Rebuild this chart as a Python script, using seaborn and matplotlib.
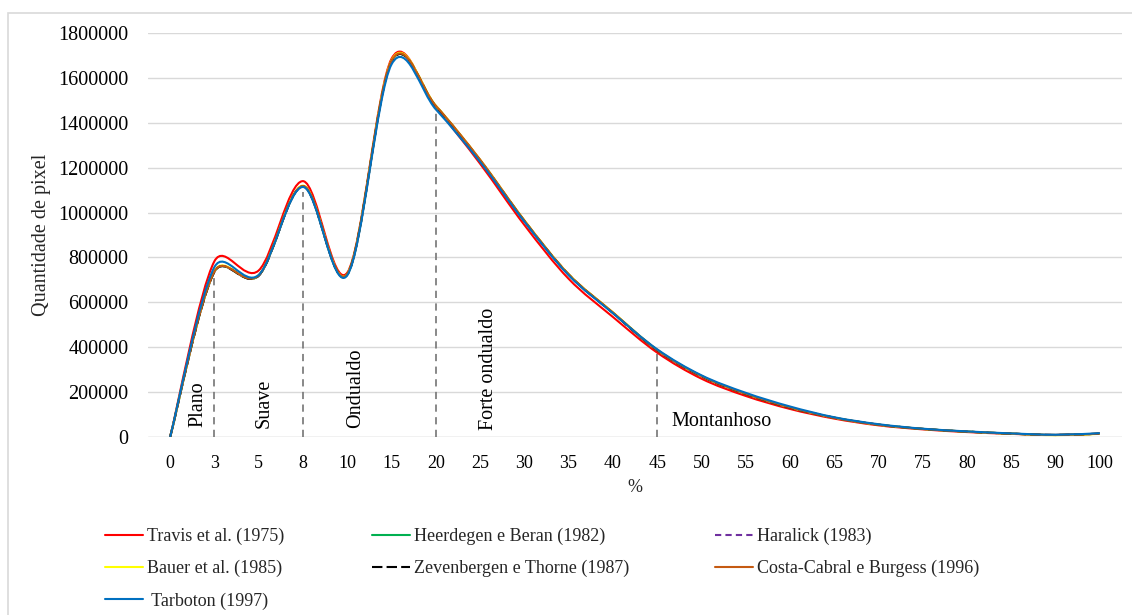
import numpy as np
import pandas as pd
import matplotlib
matplotlib.use("Agg")
import matplotlib.pyplot as plt
from matplotlib.path import Path
from matplotlib.patches import PathPatch, Rectangle
from matplotlib.lines import Line2D
import seaborn as sns

# ==========================================
# DADOS
# ==========================================
classes = ["0", "3", "5", "8", "10", "15", "20", "25", "30", "35", "40", "45",
           "50", "55", "60", "65", "70", "75", "80", "85", "90", "100"]

travis = [0, 783000, 742000, 1140000, 732000, 1685000, 1468000, 1218000, 945000, 705000, 535000,
          376000, 260000, 183000, 125000, 82000, 52000, 34000, 22000, 14000, 9000, 15000]
heerdegen = [0, 736000, 719000, 1117000, 724000, 1673000, 1474000, 1233000, 963000, 724000, 553000,
             387000, 271000, 192000, 131000, 86000, 55000, 36000, 24000, 15000, 9000, 15000]
haralick = [0, 736000, 719000, 1117000, 724000, 1673000, 1474000, 1233000, 963000, 724000, 553000,
            387000, 271000, 192000, 131000, 86000, 55000, 36000, 24000, 15000, 9000, 15000]
bauer = [0, 739000, 721000, 1120000, 726000, 1678000, 1477000, 1236000, 966000, 726000, 556000,
         389000, 272000, 193000, 132000, 86000, 55000, 36000, 24000, 15000, 8000, 14000]
zevenbergen = [0, 736000, 719000, 1117000, 724000, 1673000, 1474000, 1233000, 963000, 724000, 553000,
               387000, 271000, 192000, 131000, 86000, 55000, 36000, 24000, 15000, 9000, 15000]
costa = [0, 737000, 720000, 1118000, 725000, 1675000, 1476000, 1236000, 965000, 725000, 555000,
         388000, 272000, 193000, 132000, 86000, 55000, 36000, 24000, 15000, 9000, 15000]
tarboton = [0, 757000, 722000, 1114000, 720000, 1660000, 1460000, 1226000, 960000, 721000, 552000,
            391000, 275000, 197000, 136000, 88000, 57000, 37000, 25000, 16000, 10000, 17000]

series = {
    "Travis et al. (1975)": travis,
    "Heerdegen e Beran (1982)": heerdegen,
    "Haralick (1983)": haralick,
    "Bauer et al. (1985)": bauer,
    "Zevenbergen e Thorne (1987)": zevenbergen,
    "Costa-Cabral e Burgess (1996)": costa,
    " Tarboton (1997)": tarboton,
}

# limites das classes de relevo
limites = ["3", "8", "20", "45"]
limites_topo = [730000, 1090000, 1460000, 370000]
relevos = ["Plano", "Suave", "Ondualdo", "Forte ondualdo", "Montanhoso"]

# ==========================================
# ESTILO
# ==========================================
cores = {
    "Travis et al. (1975)": "#FF0000",
    "Heerdegen e Beran (1982)": "#00B050",
    "Haralick (1983)": "#7030A0",
    "Bauer et al. (1985)": "#FFFF00",
    "Zevenbergen e Thorne (1987)": "#000000",
    "Costa-Cabral e Burgess (1996)": "#C55A11",
    " Tarboton (1997)": "#0070C0",
}
tracos = {
    "Travis et al. (1975)": "",
    "Heerdegen e Beran (1982)": "",
    "Haralick (1983)": (3, 2),
    "Bauer et al. (1985)": "",
    "Zevenbergen e Thorne (1987)": (5, 2),
    "Costa-Cabral e Burgess (1996)": "",
    " Tarboton (1997)": "",
}
LW = 1.5
FS = 13
FS_Y = 14.5

sns.set_theme(style="white")
plt.rcParams["font.family"] = ["Liberation Serif", "DejaVu Serif"]

# escala aproximada em pixels (para a suavização ficar como a do Excel)
PX_X = 44.3
PX_Y = 404 / 1800000


def curva_suave(x, y):
    """Caminho Bezier no estilo 'linha suavizada' do Excel:
    braço de controle = 1/6 da corda vizinha, limitado a metade do segmento."""
    pts = np.column_stack([np.asarray(x, float) * PX_X, np.asarray(y, float) * PX_Y])
    ext = np.vstack([pts[0], pts, pts[-1]])
    verts = [pts[0]]
    codes = [Path.MOVETO]
    for i in range(len(pts) - 1):
        p0, p1, p2, p3 = ext[i], ext[i + 1], ext[i + 2], ext[i + 3]
        d12 = np.hypot(*(p2 - p1))
        d02 = np.hypot(*(p2 - p0))
        d13 = np.hypot(*(p3 - p1))
        f1 = 1 / 6 if d02 / 6 < d12 / 2 else d12 / (2 * d02)
        f2 = 1 / 6 if d13 / 6 < d12 / 2 else d12 / (2 * d13)
        c1 = p1 + (p2 - p0) * f1
        c2 = p2 - (p3 - p1) * f2
        verts += [c1, c2, p2]
        codes += [Path.CURVE4] * 3
    verts = np.array(verts)
    verts[:, 0] /= PX_X
    verts[:, 1] /= PX_Y
    return Path(verts, codes)


# ==========================================
# FIGURA
# ==========================================
fig = plt.figure(figsize=(11.32, 6.15), dpi=100)
ax = fig.add_axes([148 / 1132, 1 - 437 / 615, (1122 - 148) / 1132, (437 - 33) / 615])

frames = []
for nome, vals in series.items():
    frames.append(pd.DataFrame({"classe": classes, "idx": np.arange(len(classes)),
                                "valor": vals, "serie": nome}))
df = pd.concat(frames, ignore_index=True)

sns.lineplot(data=df, x="idx", y="valor", hue="serie", style="serie",
             hue_order=list(series), style_order=list(series),
             palette=cores, dashes=tracos, linewidth=LW, legend=False, ax=ax)

# troca as polilinhas do seaborn por curvas suavizadas
for linha, nome in zip(list(ax.lines), series):
    xs, ys = linha.get_data()
    ls = "-" if tracos[nome] == "" else (0, tracos[nome])
    patch = PathPatch(curva_suave(xs, ys), facecolor="none", edgecolor=cores[nome],
                      lw=LW, linestyle=ls, capstyle="butt", zorder=3)
    ax.add_patch(patch)
    linha.remove()

# linhas verticais dos limites
lim_idx = [classes.index(c) for c in limites]
ax.vlines(lim_idx, 0, limites_topo, colors="#7F7F7F", linestyles=(0, (4, 3)), lw=1.3, zorder=2)

# rótulos das classes de relevo
pos_x = [0.63, 2.12, 4.18, 7.18, 11.33]
pos_y = [45000, 40000, 40000, 32000, 50000]
rot = [90, 90, 90, 90, 0]
for txt, xx, yy, r in zip(relevos, pos_x, pos_y, rot):
    ax.text(xx, yy, txt, rotation=r, ha="center" if r else "left", va="bottom" if r else "baseline",
            fontsize=14.5, color="#000000", zorder=4)

ax.set_xlim(-0.5, len(classes) - 0.5)
ax.set_ylim(0, 1800000)
ax.set_xticks(np.arange(len(classes)))
ax.set_xticklabels(classes)
yt = np.arange(0, 1800001, 200000)
ax.set_yticks(yt)
ax.set_yticklabels([str(v) for v in yt])
ax.tick_params(axis="both", length=0, colors="#000000")
ax.tick_params(axis="y", pad=14, labelsize=FS_Y)
ax.tick_params(axis="x", pad=13, labelsize=FS)
ax.yaxis.grid(True, color="#D9D9D9", lw=1)
ax.xaxis.grid(False)
for s in ax.spines.values():
    s.set_visible(False)
ax.axhline(0, color="#D9D9D9", lw=1, zorder=1)

ax.set_xlabel("%", fontsize=FS)
ax.set_ylabel("Quantidade de pixel", fontsize=FS_Y)
ax.xaxis.set_label_coords(0.5, -0.105)
ax.yaxis.set_label_coords(-0.1, 0.5)

# legenda em três colunas (posições como no original)
colunas = [
    ["Travis et al. (1975)", "Bauer et al. (1985)", " Tarboton (1997)"],
    ["Heerdegen e Beran (1982)", "Zevenbergen e Thorne (1987)"],
    ["Haralick (1983)", "Costa-Cabral e Burgess (1996)"],
]
col_x = [105, 372, 715]
for nomes, cx in zip(colunas, col_x):
    hs = [Line2D([], [], color=cores[n], lw=LW,
                 linestyle="-" if tracos[n] == "" else (0, tracos[n])) for n in nomes]
    fig.legend(hs, nomes, loc="upper left", bbox_to_anchor=(cx / 1132, 1 - 528 / 615),
               frameon=False, fontsize=FS, handlelength=2.1, handletextpad=0.25,
               labelspacing=0.82, borderpad=0, borderaxespad=0)

# moldura do gráfico
fig.patches.append(Rectangle((8 / 1132, -0.1), 1.2, 1 - 13 / 615 + 0.1, transform=fig.transFigure,
                             fill=False, edgecolor="#D9D9D9", lw=1.2))

fig.savefig("out.png", dpi=100)
